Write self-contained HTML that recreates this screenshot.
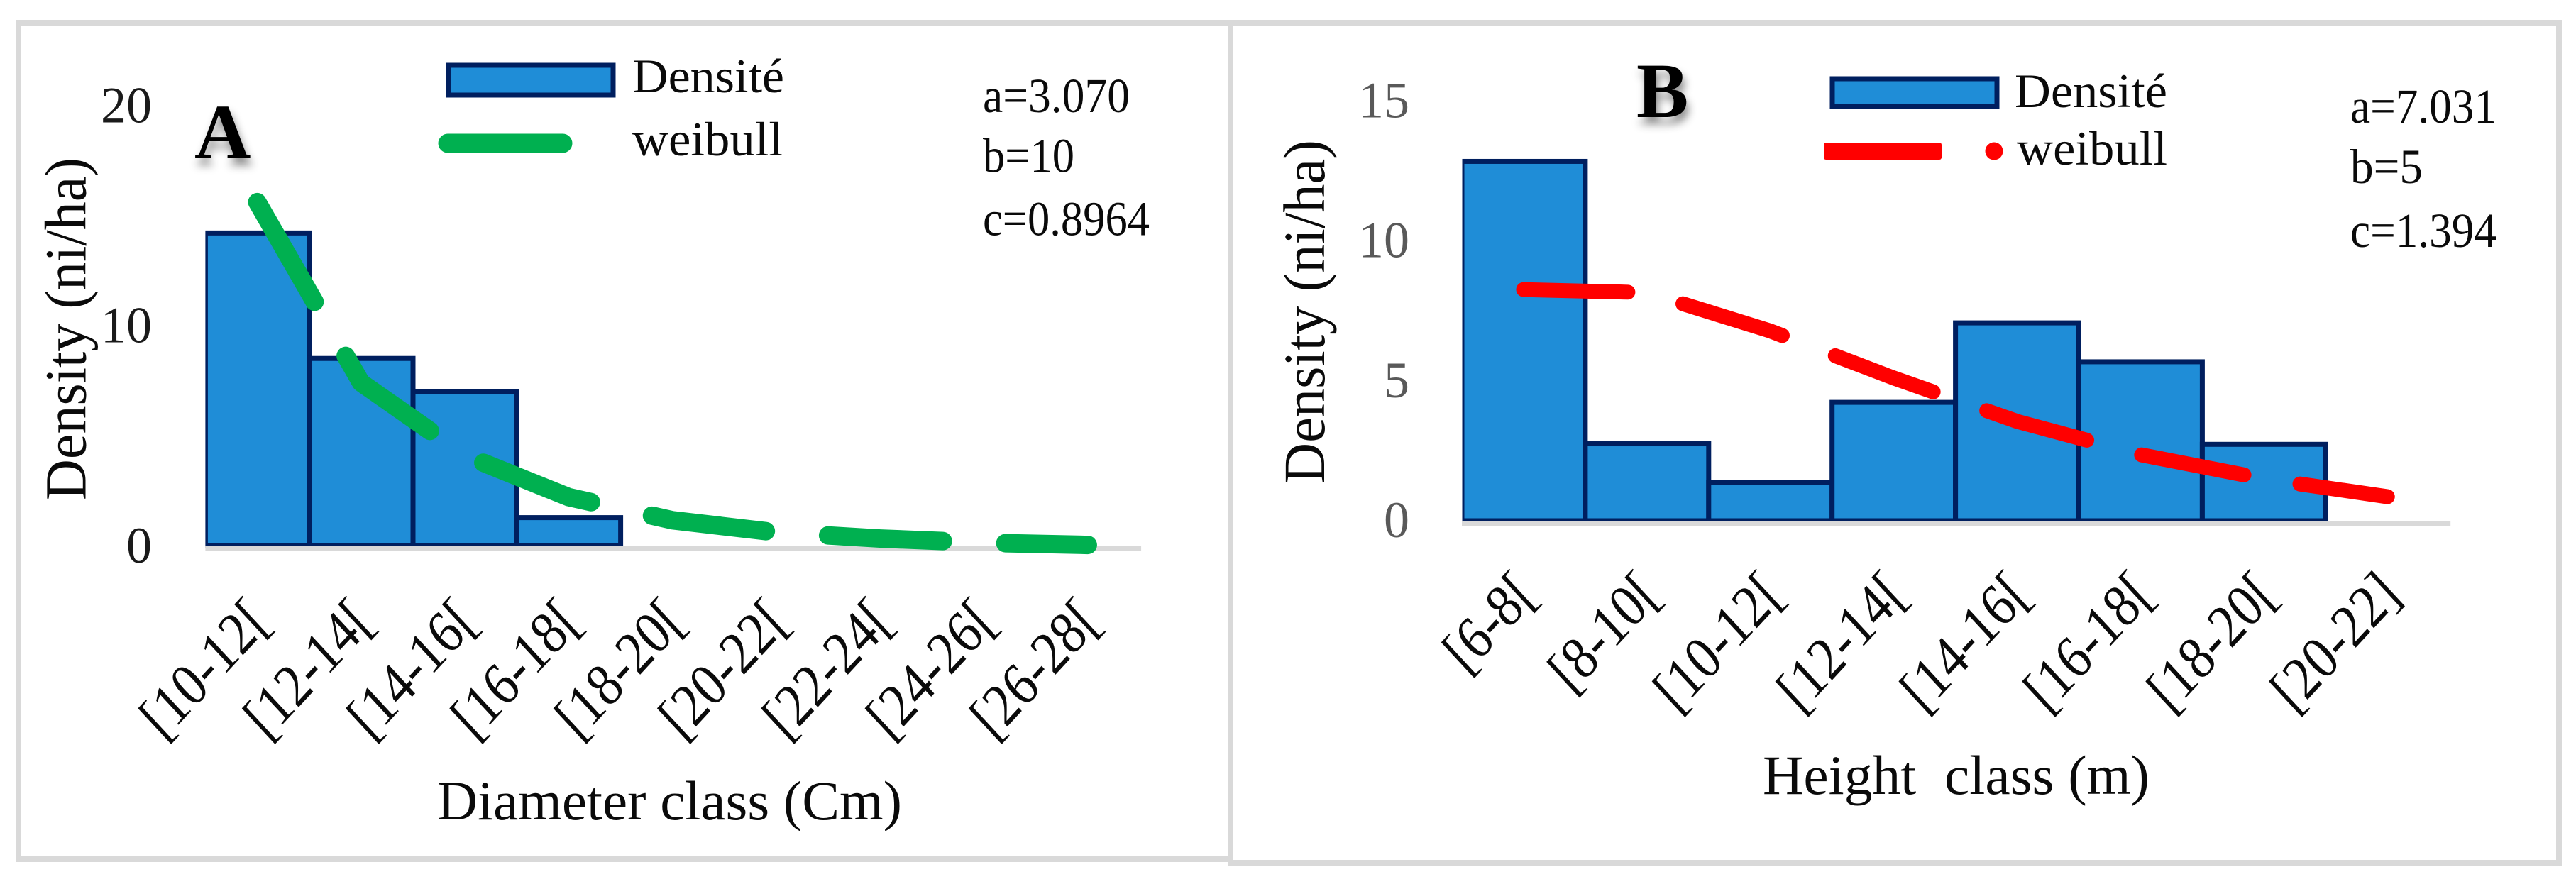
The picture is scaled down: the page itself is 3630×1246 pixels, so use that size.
<!DOCTYPE html>
<html lang="en">
<head>
<meta charset="utf-8">
<title>Diameter and height class distributions</title>
<style>
html,body{margin:0;padding:0;background:#fff;}
svg{display:block;}
text{font-family:"Liberation Serif",serif;fill:#0a0a0a;}
.shadow{filter:url(#letter-shadow);}
</style>
</head>
<body>
<svg id="figure" xmlns="http://www.w3.org/2000/svg" width="3630" height="1246" viewBox="0 0 3630 1246">
  <defs>
    <filter id="letter-shadow" x="-50%" y="-50%" width="200%" height="200%">
      <feDropShadow dx="3" dy="10" stdDeviation="6" flood-color="#000" flood-opacity="0.45"/>
    </filter>
    <clipPath id="clip-a"><rect x="289.4" y="0" width="1400" height="1000"/></clipPath>
    <clipPath id="clip-b"><rect x="2060.5" y="0" width="1500" height="1000"/></clipPath>
  </defs>
  <rect x="0" y="0" width="3630" height="1246" fill="#fff"/>
  <rect x="26" y="32" width="1708" height="1179" fill="none" stroke="#d9d9d9" stroke-width="8"/>
  <rect x="1734" y="32" width="1872" height="1184" fill="none" stroke="#d9d9d9" stroke-width="8"/>

  <g id="panel-a">
    <g id="plot-a"></g>
    <text class="shadow" x="274" y="223" font-size="110" font-weight="bold" style="fill:#000">A</text>
    <rect x="632" y="92" width="232" height="42" fill="#1f8dd7" stroke="#001f5f" stroke-width="7"/>
    <text x="891" y="130" font-size="68" textLength="214" lengthAdjust="spacingAndGlyphs">Densité</text>
    <line x1="631" y1="202" x2="793" y2="202" stroke="#00b050" stroke-width="27" stroke-linecap="round"/>
    <text x="891" y="219" font-size="68" textLength="212" lengthAdjust="spacingAndGlyphs">weibull</text>
    <text x="1385" y="158" font-size="69" textLength="207" lengthAdjust="spacingAndGlyphs">a=3.070</text>
    <text x="1385" y="242.5" font-size="69" textLength="129" lengthAdjust="spacingAndGlyphs">b=10</text>
    <text x="1385" y="331.5" font-size="69" textLength="235" lengthAdjust="spacingAndGlyphs">c=0.8964</text>
    <text transform="translate(120.5 705) rotate(-90)" x="0" y="0" font-size="83" textLength="483" lengthAdjust="spacingAndGlyphs">Density (ni/ha)</text>
    <text x="616" y="1155" font-size="78" textLength="655" lengthAdjust="spacingAndGlyphs">Diameter class (Cm)</text>
  </g>

  <g id="panel-b">
    <g id="plot-b"></g>
    <text class="shadow" x="2306" y="165" font-size="110" font-weight="bold" style="fill:#000">B</text>
    <rect x="2582" y="111" width="232" height="39" fill="#1f8dd7" stroke="#001f5f" stroke-width="7"/>
    <text x="2839" y="151" font-size="68" textLength="215" lengthAdjust="spacingAndGlyphs">Densité</text>
    <rect x="2570" y="201" width="166" height="24" rx="3" fill="#ff0000"/>
    <circle cx="2810" cy="213" r="12.5" fill="#ff0000"/>
    <text x="2842" y="232" font-size="68" textLength="212" lengthAdjust="spacingAndGlyphs">weibull</text>
    <text x="3312" y="173" font-size="69" textLength="206" lengthAdjust="spacingAndGlyphs">a=7.031</text>
    <text x="3312" y="258" font-size="69" textLength="102" lengthAdjust="spacingAndGlyphs">b=5</text>
    <text x="3312" y="348" font-size="69" textLength="206" lengthAdjust="spacingAndGlyphs">c=1.394</text>
    <text transform="translate(1866 682) rotate(-90)" x="0" y="0" font-size="83" textLength="485" lengthAdjust="spacingAndGlyphs">Density (ni/ha)</text>
    <text x="2484" y="1119" font-size="78" textLength="545" lengthAdjust="spacingAndGlyphs" xml:space="preserve" style="white-space:pre">Height  class (m)</text>
  </g>
</svg>

<script>
// Panel A data
const categoriesA = ['[10-12[', '[12-14[', '[14-16[', '[16-18[', '[18-20[', '[20-22[', '[22-24[', '[24-26[', '[26-28['];
const densityA = [14.2, 8.5, 7.0, 1.27, 0, 0, 0, 0, 0];
const weibullA = [15.6, 7.4, 4.1, 2.2, 1.15, 0.6, 0.32, 0.13, 0.03];
const yTicksA = [0, 10, 20];

// Panel B data
const categoriesB = ['[6-8[', '[8-10[', '[10-12[', '[12-14[', '[14-16[', '[16-18[', '[18-20[', '[20-22]'];
const densityB = [12.84, 2.75, 1.38, 4.23, 7.07, 5.68, 2.73, 0];
const weibullB = [8.26, 8.15, 6.78, 5.1, 3.55, 2.36, 1.5, 0.86];
const yTicksB = [0, 5, 10, 15];

const SVG_NS = 'http://www.w3.org/2000/svg';

function make(tag, attrs, parent) {
  const el = document.createElementNS(SVG_NS, tag);
  for (const k in attrs) el.setAttribute(k, attrs[k]);
  parent.appendChild(el);
  return el;
}

function drawPanel(cfg) {
  const g = document.getElementById(cfg.id);
  const xBand = i => cfg.left + i * cfg.step;
  const xCenter = i => xBand(i) + cfg.step / 2;
  const yScale = v => cfg.zero - v * cfg.unit;

  const barGroup = make('g', { 'clip-path': 'url(#' + cfg.clip + ')' }, g);
  
  

  cfg.density.forEach((v, i) => {
    if (v <= 0) return;
    const bar = make('rect', {
      x: xBand(i), y: yScale(v), width: cfg.step, height: cfg.zero - yScale(v),
      fill: '#1f8dd7', stroke: '#001f5f', 'stroke-width': 7
    }, barGroup);
    
    
  });

  const axis = make('rect', {
    x: cfg.left, y: cfg.zero, width: cfg.step * cfg.categories.length + 2, height: 8, fill: '#d9d9d9'
  }, g);
  
  

  cfg.yTicks.forEach(v => {
    const t = make('text', {
      x: cfg.tickRight, y: yScale(v) + cfg.tickDrop, 'text-anchor': 'end',
      'font-size': 72, style: 'fill:' + cfg.tickColor
    }, g);
    t.textContent = String(v);
    
    
  });

  cfg.categories.forEach((c, i) => {
    const lx = xCenter(i) + cfg.labelDx;
    const t = make('text', {
      x: 0, y: 0, 'text-anchor': 'end', 'font-size': 80,
      transform: 'translate(' + lx + ' ' + cfg.labelY + ') scale(1 1.08) rotate(-45) scale(0.9 1)'
    }, g);
    t.textContent = c;
    
    
  });

  const pts = cfg.weibull.map((v, i) => xCenter(i) + ',' + yScale(v)).join(' ');
  const line = make('polyline', {
    points: pts, fill: 'none', stroke: cfg.lineColor, 'stroke-width': cfg.lineWidth,
    'stroke-linecap': 'round', 'stroke-linejoin': 'round', 'stroke-dasharray': cfg.dash
  }, g);
  
  
}

drawPanel({
  id: 'plot-a', suffix: 'a', clip: 'clip-a', categories: categoriesA, density: densityA, weibull: weibullA, yTicks: yTicksA,
  left: 289.4, step: 146.3, zero: 769, unit: 31.03, tickRight: 214, tickDrop: 24, tickColor: '#1a1a1a',
  labelDx: 20, labelY: 880, lineColor: '#00b050', lineWidth: 26, dash: '162 88'
});

drawPanel({
  id: 'plot-b', suffix: 'b', clip: 'clip-b', categories: categoriesB, density: densityB, weibull: weibullB, yTicks: yTicksB,
  left: 2060, step: 173.9, zero: 734, unit: 39.45, tickRight: 1986, tickDrop: 23, tickColor: '#595959',
  labelDx: 21, labelY: 842, lineColor: '#ff0000', lineWidth: 21, dash: '147 80'
});
</script>
</body>
</html>
